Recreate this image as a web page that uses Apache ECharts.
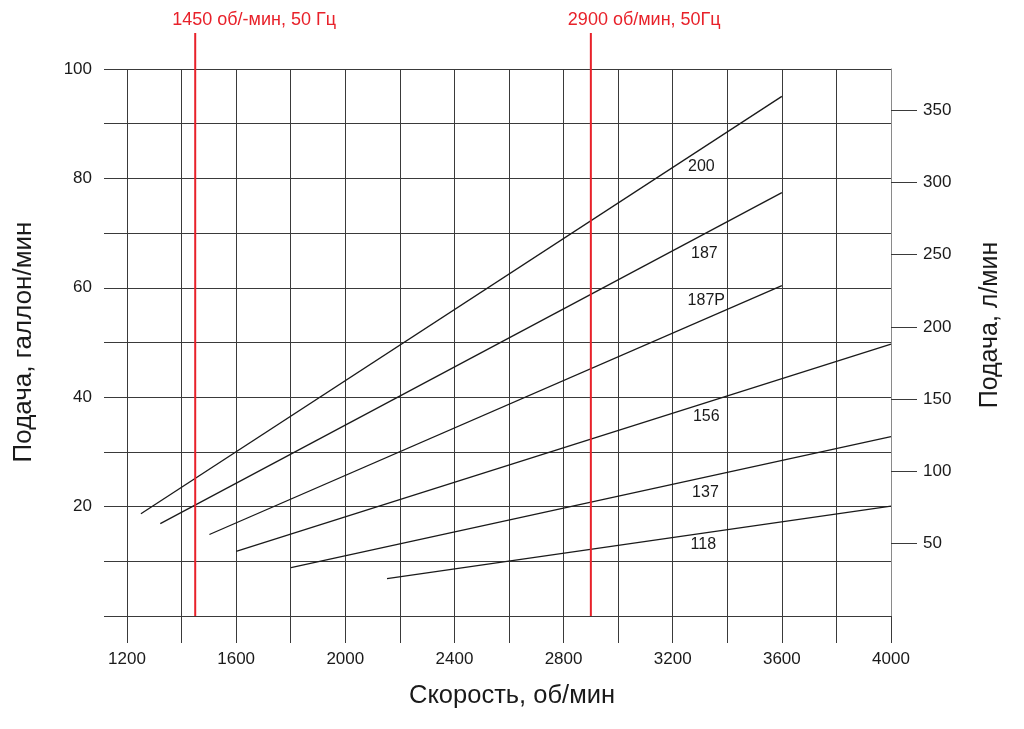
<!DOCTYPE html>
<html>
<head>
<meta charset="utf-8">
<script src="https://cdn.jsdelivr.net/npm/echarts@6/dist/echarts.min.js"></script>
<style>html,body{margin:0;padding:0;background:#fff}#c{width:1024px;height:729px}</style>
</head>
<body>
<div id="c"></div>
<script>
// Pump models and their flow lines (rpm, gallons/min)
const models = ['200', '187', '187P', '156', '137', '118'];
const startRpm = [1251, 1322, 1502, 1600, 1801, 2153];
const startFlow = [18.7, 16.9, 14.9, 11.8, 8.85, 6.84];
const endRpm = [3600, 3600, 3600, 4000, 4000, 4000];
const endFlow = [95.0, 77.4, 60.4, 49.7, 32.8, 20.1];
// model label anchor points (rpm, gallons/min)
const labelRpm = [3305, 3316, 3323, 3323, 3320, 3312];
const labelFlow = [82.1, 66.2, 57.7, 36.5, 22.5, 13.1];
// reference speeds
const refRpm = [1450, 2900];
const refText = ['1450 об/-мин, 50 Гц', '2900 об/мин, 50Гц'];
const refTop = 106.6;
// axes
const xTicks = [1200, 4000, 200];
const leftLabels = [20, 40, 60, 80, 100];
const rightLabels = [50, 100, 150, 200, 250, 300, 350];
const litersPerGallon = 3.78541;

const FONT = "'Liberation Sans', Arial, sans-serif";
const GRID = '#3a3a3a';
const RED = '#e8212a';

const series = [];
models.forEach((m, i) => {
  series.push({
    type: 'line', name: m, symbol: 'none', silent: true,
    lineStyle: { color: '#1a1a1a', width: 1.3 },
    data: [[startRpm[i], startFlow[i]], [endRpm[i], endFlow[i]]],
    z: 3
  });
});
refRpm.forEach((r, i) => {
  series.push({
    type: 'line', symbol: 'circle', symbolSize: 0, clip: false, silent: true,
    lineStyle: { color: RED, width: 2 },
    data: [
      { value: [r, 0] },
      { value: [r, refTop], label: { show: true, formatter: refText[i], position: 'top', align: 'left', offset: [-23, 0], distance: 4, color: RED, fontSize: 18, fontFamily: FONT } }
    ],
    z: 4
  });
});
series.push({
  type: 'scatter', symbolSize: 0, silent: true,
  itemStyle: { opacity: 1, color: 'rgba(0,0,0,0)' },
  data: models.map((m, i) => [labelRpm[i], labelFlow[i], m]),
  label: { show: true, position: [0, 0], align: 'center', verticalAlign: 'middle',
    formatter: p => p.value[2], color: '#1a1a1a', textBorderWidth: 0, fontSize: 16, fontFamily: FONT },
  z: 5
});

const chart = echarts.init(document.getElementById('c'), null, { renderer: 'canvas' });
chart.setOption({
  animation: false,
  backgroundColor: '#fff',
  grid: { left: 127, right: 133, top: 69, bottom: 113, containLabel: false },
  xAxis: {
    type: 'value', min: xTicks[0], max: xTicks[1], interval: xTicks[2],
    axisLine: { show: true, lineStyle: { color: GRID, width: 1 } },
    axisTick: { show: true, inside: false, length: 27, lineStyle: { color: GRID, width: 1 } },
    splitLine: { show: true, lineStyle: { color: GRID, width: 1 } },
    axisLabel: { interval: 1, margin: 35, color: '#1a1a1a', fontSize: 17, fontFamily: FONT,
      formatter: v => ((v - xTicks[0]) % 400 === 0 ? String(v) : '') }
  },
  yAxis: [
    {
      type: 'value', min: 0, max: 100, interval: 10,
      axisLine: { show: false },
      axisTick: { show: true, inside: false, length: 23, lineStyle: { color: GRID, width: 1 } },
      splitLine: { show: true, lineStyle: { color: GRID, width: 1 } },
      axisLabel: { margin: 35, color: '#1a1a1a', fontSize: 17, fontFamily: FONT,
        formatter: v => (leftLabels.indexOf(v) >= 0 ? String(v) : '') }
    },
    {
      type: 'value', position: 'right', min: 0, max: 100 * litersPerGallon, interval: 50,
      axisLine: { show: true, lineStyle: { color: '#8a8a8a', width: 1 } },
      axisTick: { show: true, inside: false, length: 26, customValues: rightLabels, lineStyle: { color: GRID, width: 1 } },
      splitLine: { show: false },
      axisLabel: { margin: 32, color: '#1a1a1a', fontSize: 17, fontFamily: FONT, customValues: rightLabels }
    }
  ],
  graphic: [
    { type: 'text', x: 24, y: 342, rotation: Math.PI / 2,
      style: { text: 'Подача, галлон/мин', fontSize: 26, fontFamily: FONT, fill: '#1a1a1a', align: 'center', verticalAlign: 'middle' } },
    { type: 'text', x: 990, y: 325, rotation: Math.PI / 2,
      style: { text: 'Подача, л/мин', fontSize: 25, fontFamily: FONT, fill: '#1a1a1a', align: 'center', verticalAlign: 'middle' } },
    { type: 'text', x: 512, y: 696,
      style: { text: 'Скорость, об/мин', fontSize: 25.5, fontFamily: FONT, fill: '#1a1a1a', align: 'center', verticalAlign: 'middle' } }
  ],
  series: series
});
</script>
</body>
</html>
